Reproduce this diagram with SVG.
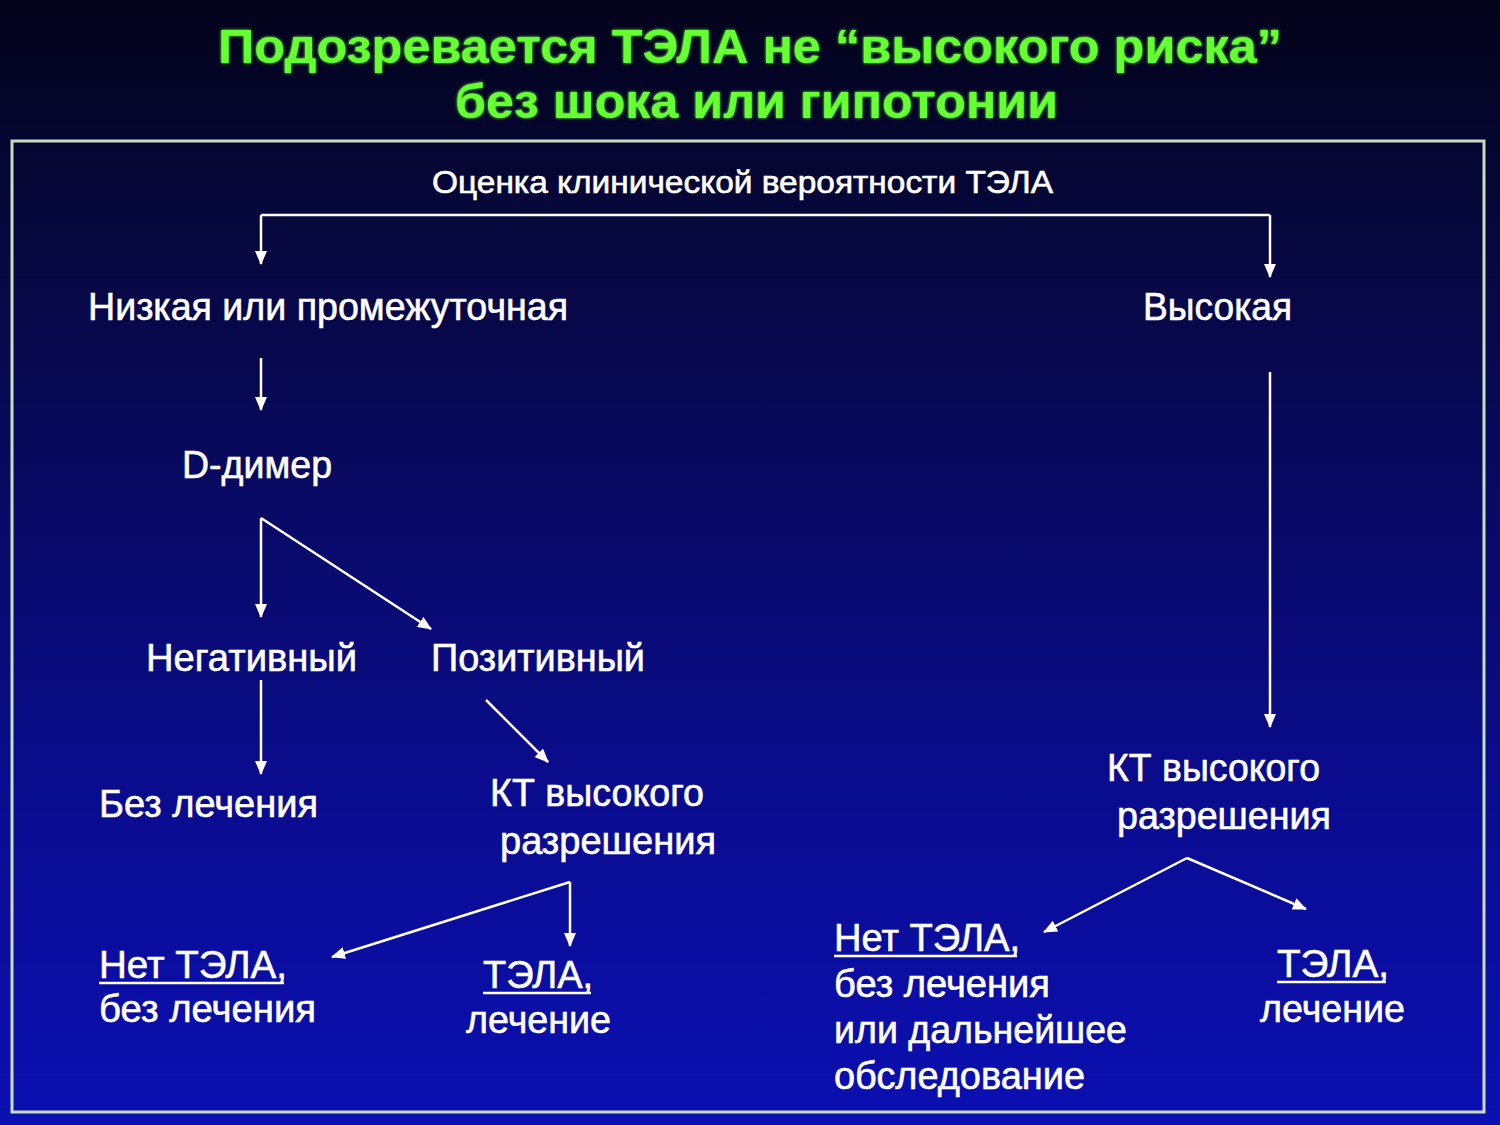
<svg xmlns="http://www.w3.org/2000/svg" width="1500" height="1125" viewBox="0 0 1500 1125">
<defs>
<linearGradient id="bg" x1="0" y1="0" x2="0" y2="1">
<stop offset="0" stop-color="#03031a"/>
<stop offset="0.3" stop-color="#07084c"/>
<stop offset="0.7" stop-color="#0a0c8e"/>
<stop offset="1" stop-color="#0a10b2"/>
</linearGradient>
<marker id="ah" viewBox="0 0 14 12" refX="13" refY="6" markerWidth="14" markerHeight="12" markerUnits="userSpaceOnUse" orient="auto">
<path d="M0,0 L14,6 L0,12 Z" fill="#ffffff"/>
</marker>
<filter id="glow" x="-5%" y="-20%" width="110%" height="140%">
<feGaussianBlur stdDeviation="1.5" result="b"/>
<feMerge><feMergeNode in="b"/><feMergeNode in="SourceGraphic"/></feMerge>
</filter>
</defs>
<style>
.t{font-family:"Liberation Sans",Arial,sans-serif;fill:#ffffff;font-size:38px;stroke:#ffffff;stroke-width:0.6}
.s{font-size:31px}
.h{font-family:"Liberation Sans",Arial,sans-serif;fill:#66ff33;font-size:49px;font-weight:bold}
.c{stroke:#ffffff;stroke-width:2.5;fill:none}
.u{stroke:#ffffff;stroke-width:2.5}
</style>
<rect x="0" y="0" width="1500" height="1125" fill="url(#bg)"/>
<g id="title" filter="url(#glow)">
<text class="h" x="218" y="63" textLength="1064" lengthAdjust="spacingAndGlyphs">Подозревается ТЭЛА не “высокого риска”</text>
<text class="h" x="455" y="118" textLength="603" lengthAdjust="spacingAndGlyphs">без шока или гипотонии</text>
</g>
<rect id="frame" x="12" y="141" width="1472" height="971" fill="none" stroke="#c8dcc0" stroke-width="3"/>
<g id="connectors">
<path class="c" d="M261,215 H1270"/>
<path class="c" d="M261,215 V264" marker-end="url(#ah)"/>
<path class="c" d="M1270,215 V277" marker-end="url(#ah)"/>
<path class="c" d="M261,358 V410" marker-end="url(#ah)"/>
<path class="c" d="M261,518 V617" marker-end="url(#ah)"/>
<path class="c" d="M261,518 L431,629" marker-end="url(#ah)"/>
<path class="c" d="M261,680 V774" marker-end="url(#ah)"/>
<path class="c" d="M486,700 L548,762" marker-end="url(#ah)"/>
<path class="c" d="M1270,372 V727" marker-end="url(#ah)"/>
<path class="c" d="M570,882 V946" marker-end="url(#ah)"/>
<path class="c" d="M570,882 L332,957" marker-end="url(#ah)"/>
<path class="c" d="M1187,858 L1044,932" marker-end="url(#ah)"/>
<path class="c" d="M1187,858 L1306,909" marker-end="url(#ah)"/>
</g>
<g id="n-assess"><text class="t s" x="432" y="193" textLength="621" lengthAdjust="spacingAndGlyphs">Оценка клинической вероятности ТЭЛА</text></g>
<g id="n-low"><text class="t" x="88" y="320" textLength="480" lengthAdjust="spacingAndGlyphs">Низкая или промежуточная</text></g>
<g id="n-high"><text class="t" x="1143" y="320" textLength="149" lengthAdjust="spacingAndGlyphs">Высокая</text></g>
<g id="n-ddimer"><text class="t" x="182" y="478" textLength="150" lengthAdjust="spacingAndGlyphs">D-димер</text></g>
<g id="n-neg"><text class="t" x="146" y="671" textLength="211" lengthAdjust="spacingAndGlyphs">Негативный</text></g>
<g id="n-pos"><text class="t" x="431" y="671" textLength="214" lengthAdjust="spacingAndGlyphs">Позитивный</text></g>
<g id="n-notreat"><text class="t" x="99" y="817" textLength="219" lengthAdjust="spacingAndGlyphs">Без лечения</text></g>
<g id="n-ct1">
<text class="t" x="490" y="806" textLength="214" lengthAdjust="spacingAndGlyphs">КТ высокого</text>
<text class="t" x="500" y="854" textLength="216" lengthAdjust="spacingAndGlyphs">разрешения</text>
</g>
<g id="n-ct2">
<text class="t" x="1107" y="781" textLength="213" lengthAdjust="spacingAndGlyphs">КТ высокого</text>
<text class="t" x="1117" y="829" textLength="214" lengthAdjust="spacingAndGlyphs">разрешения</text>
</g>
<g id="n-nope1">
<text class="t" x="99" y="978" textLength="188" lengthAdjust="spacingAndGlyphs">Нет ТЭЛА,</text>
<line class="u" x1="99" y1="983" x2="284" y2="983"/>
<text class="t" x="99" y="1022" textLength="217" lengthAdjust="spacingAndGlyphs">без лечения</text>
</g>
<g id="n-pe1">
<text class="t" x="483" y="988" textLength="110" lengthAdjust="spacingAndGlyphs">ТЭЛА,</text>
<line class="u" x1="483" y1="993" x2="591" y2="993"/>
<text class="t" x="466" y="1033" textLength="145" lengthAdjust="spacingAndGlyphs">лечение</text>
</g>
<g id="n-nope2">
<text class="t" x="834" y="951" textLength="186" lengthAdjust="spacingAndGlyphs">Нет ТЭЛА,</text>
<line class="u" x1="834" y1="956" x2="1017" y2="956"/>
<text class="t" x="834" y="997" textLength="216" lengthAdjust="spacingAndGlyphs">без лечения</text>
<text class="t" x="834" y="1043" textLength="293" lengthAdjust="spacingAndGlyphs">или дальнейшее</text>
<text class="t" x="834" y="1089" textLength="251" lengthAdjust="spacingAndGlyphs">обследование</text>
</g>
<g id="n-pe2">
<text class="t" x="1277" y="977" textLength="112" lengthAdjust="spacingAndGlyphs">ТЭЛА,</text>
<line class="u" x1="1277" y1="982" x2="1386" y2="982"/>
<text class="t" x="1260" y="1022" textLength="145" lengthAdjust="spacingAndGlyphs">лечение</text>
</g>
</svg>
